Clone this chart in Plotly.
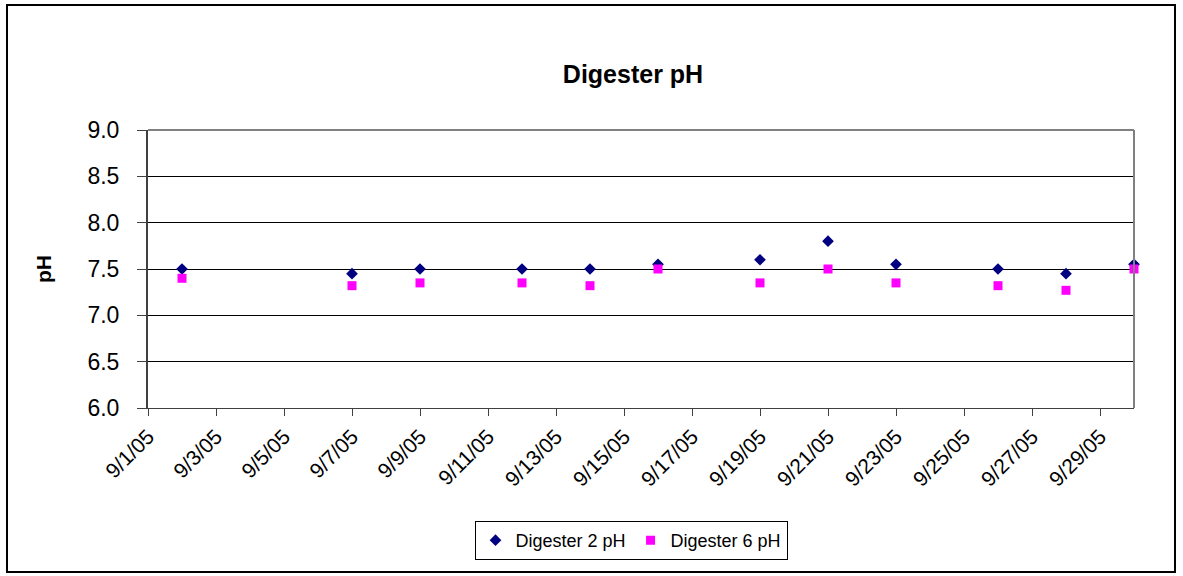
import plotly.graph_objects as go

dates = ["2005-09-02", "2005-09-07", "2005-09-09", "2005-09-12", "2005-09-14", "2005-09-16",
         "2005-09-19", "2005-09-21", "2005-09-23", "2005-09-26", "2005-09-28", "2005-09-30"]
digester2 = [7.5, 7.45, 7.5, 7.5, 7.5, 7.55, 7.6, 7.8, 7.55, 7.5, 7.45, 7.55]
digester6 = [7.4, 7.32, 7.35, 7.35, 7.32, 7.5, 7.35, 7.5, 7.35, 7.32, 7.27, 7.5]

tick_vals = ["2005-09-%02d" % d for d in range(1, 30, 2)]
tick_text = ["9/%d/05" % d for d in range(1, 30, 2)]

fig = go.Figure()
fig.add_trace(go.Scatter(x=dates, y=digester2, mode="markers", name="Digester 2 pH",
                         marker=dict(symbol="diamond", color="#000080", size=9), cliponaxis=False))
fig.add_trace(go.Scatter(x=dates, y=digester6, mode="markers", name="Digester 6 pH",
                         marker=dict(symbol="square", color="#FF00FF", size=9), cliponaxis=False))

fig.update_layout(
    width=1183, height=576,
    margin=dict(l=148, r=49, t=130, b=168),
    paper_bgcolor="white", plot_bgcolor="white",
    font=dict(family="Liberation Sans, Arial", color="black"),
    title=dict(text="<b>Digester pH</b>", x=633 / 1183, xanchor="center",
               y=1 - 74 / 576, yanchor="middle", font=dict(size=25)),
    xaxis=dict(range=["2005-09-01", "2005-09-30"], tickvals=tick_vals, ticktext=tick_text,
               tickangle=-45, tickfont=dict(size=21), ticks="outside", ticklen=7,
               tickcolor="#404040", showline=True, linecolor="#404040", linewidth=1,
               showgrid=False, zeroline=False),
    yaxis=dict(range=[6.0, 9.0], dtick=0.5, tickformat=".1f", tickfont=dict(size=23),
               ticks="outside", ticklen=9, tickcolor="#404040", showline=True,
               linecolor="#404040", linewidth=2, showgrid=True, gridcolor="black",
               gridwidth=1, zeroline=False, ticklabelstandoff=13,
               title=dict(text="<b>pH</b>", font=dict(size=21), standoff=30)),
    showlegend=True,
    legend=dict(orientation="h", x=(631 - 148) / 986, xanchor="center",
                y=(408 - 521) / 278, yanchor="top", bordercolor="black", borderwidth=1,
                font=dict(size=18), itemwidth=30, tracegroupgap=0),
    shapes=[
        dict(type="line", xref="paper", yref="paper", x0=0, x1=1, y0=1, y1=1,
             line=dict(color="#808080", width=2)),
        dict(type="line", xref="paper", yref="paper", x0=1, x1=1, y0=0, y1=1,
             line=dict(color="#808080", width=2)),
        dict(type="rect", xref="paper", yref="paper",
             x0=(7 - 148) / 986, x1=(1175 - 148) / 986,
             y0=(408 - 572) / 278, y1=(408 - 5) / 278,
             line=dict(color="black", width=2), layer="below"),
    ],
)

fig.write_html("out.html", post_script="document.body.style.margin='0';",
               config={"displayModeBar": False})
